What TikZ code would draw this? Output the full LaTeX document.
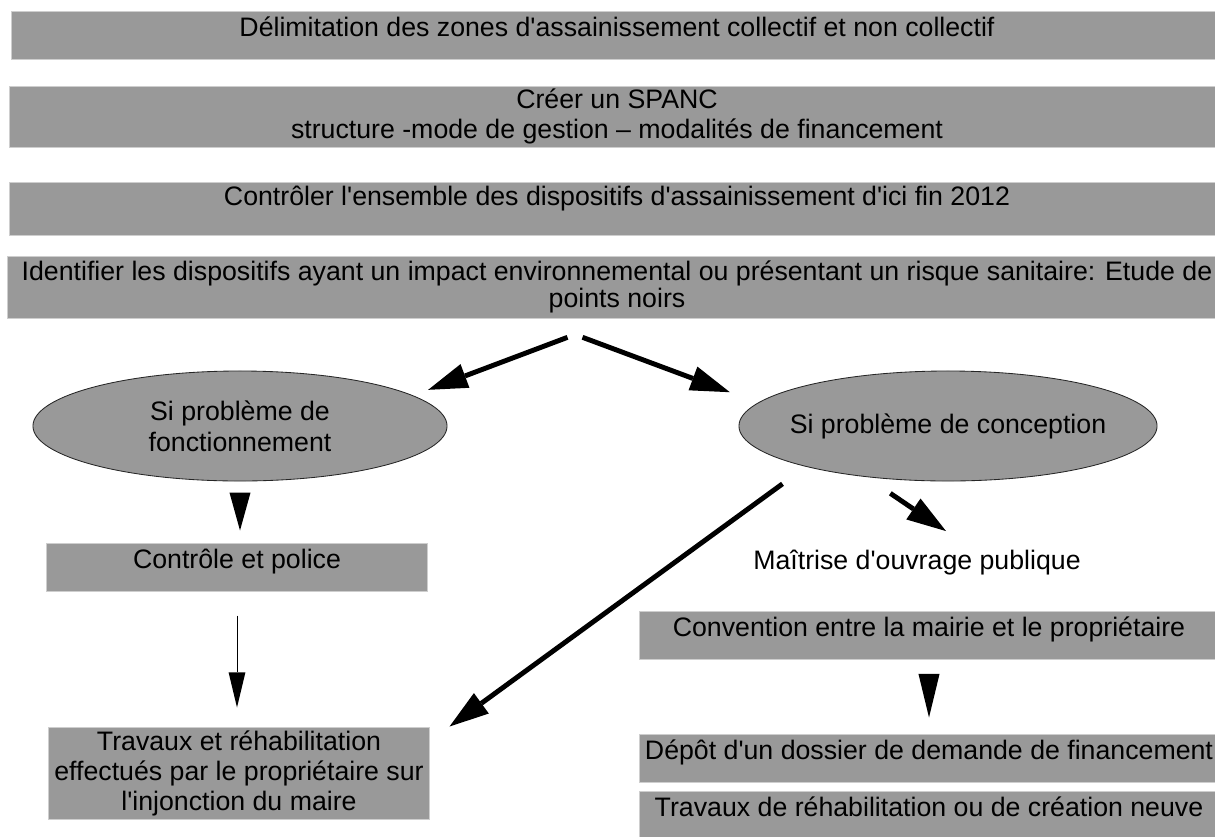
\documentclass[tikz,border=0pt]{standalone}
\usepackage{fontspec}
\setmainfont{Liberation Sans}[Ligatures=TeXOff]
\usetikzlibrary{arrows.meta,positioning,shapes.geometric,calc}
\definecolor{slab}{RGB}{153,153,153}
\definecolor{slabedge}{RGB}{206,206,206}
\tikzset{
  slab/.style={fill=slab,draw=slabedge,line width=0.7pt,inner sep=0pt,align=center,
    font=\fontsize{19}{21.3}\selectfont},
  slabone/.style={slab,text height=12pt,text depth=9.5pt},
  bubble/.style={ellipse,fill=slab,draw=black!85,line width=0.6pt,inner sep=0pt,align=center,
    font=\fontsize{19}{22}\selectfont},
  fat/.style={-{Triangle[length=28pt,width=18pt,line width=0pt]},line width=3.5pt},
  slimarrow/.style={-{Triangle[length=25pt,width=12pt,line width=0pt]},line width=0.7pt},
  headonly/.style={-{Triangle[length=#1,width=15pt,line width=0pt]},line width=0.7pt},
}

\begin{document}
\begin{tikzpicture}[x=0.025cm,y=-0.025cm]
  \useasboundingbox (0,0) rectangle (1215,836);
  % the four steps across the page
  \node[slabone,minimum width=30.25cm,minimum height=1.2cm] (b1) at (617,35)
    {Délimitation des zones d'assainissement collectif et non collectif};
  \node[slab,minimum width=30.35cm,minimum height=1.525cm] (b2) at (617,116.5)
    {Créer un SPANC\\structure -mode de gestion – modalités de financement};
  \node[slabone,text depth=16.25pt,minimum width=30.35cm,minimum height=1.325cm] (b3) at (617,208.5)
    {Contrôler l'ensemble des dispositifs d'assainissement d'ici fin 2012};
  \node[slab,font=\fontsize{19}{19.1}\selectfont,minimum width=30.45cm,minimum height=1.55cm] (b4) at (617,287)
    {Identifier les dispositifs ayant un impact environnemental ou présentant un risque sanitaire: Etude de\\points noirs};

  % the two cases
  \node[bubble,minimum width=10.35cm,minimum height=2.75cm] (e1) at (240,426) {Si problème de\\fonctionnement};
  \node[bubble,inner xsep=-8pt,minimum width=10.45cm,minimum height=2.75cm] (e2) at (948,426) {Si problème de conception};

  % left branch
  \node[slabone,minimum width=9.5cm,minimum height=1.2cm] (c1) at (237,567) {Contrôle et police};
  \node[slab,minimum width=9.5cm,minimum height=2.3cm] (t1) at (239,773)
    {Travaux et réhabilitation\\effectués par le propriétaire sur\\l'injonction du maire};

  % right branch
  \node[font=\fontsize{19}{21.3}\selectfont,inner sep=0pt,text height=14pt,text depth=4pt] (m1) at (917,562)
    {Maîtrise d'ouvrage publique};
  \node[slabone,minimum width=14.45cm,minimum height=1.2cm] (cv) at (929,635) {Convention entre la mairie et le propriétaire};
  \node[slabone,minimum width=14.45cm,minimum height=1.2cm] (dp) at (929,758) {Dépôt d'un dossier de demande de financement};
  \node[slabone,minimum width=14.45cm,minimum height=1.2cm] (tr) at (929,815) {Travaux de réhabilitation ou de création neuve};

  % connectors
  \coordinate (split) at ($(b4.south)+(-42,16)$);
  \draw[fat,shorten <=0.2cm,shorten >=0.4cm] (split) -- (e1.10);
  \draw[fat,shorten <=0.2cm,shorten >=0.75cm] (split) -- (e2.173);
  \draw[headonly=27pt,shorten <=0.3cm,shorten >=0.3cm] (e1.south) -- (e1.south |- c1.north);
  \draw[slimarrow,xshift=4pt,shorten <=0.6cm,shorten >=0.475cm] (c1.south) -- (c1.south |- t1.north);
  \draw[fat,shorten <=0.725cm] (e2.196) -- ($(t1.north east)+(20,0)$);
  \draw[fat,shorten <=0.725cm] (e2.212) -- ($(m1.north)+(29,-18)$);
  \draw[headonly=31pt,xshift=-5pt,shorten <=0.375cm,shorten >=0.4cm] (cv.south) -- (cv.south |- dp.north);
\end{tikzpicture}
\end{document}
